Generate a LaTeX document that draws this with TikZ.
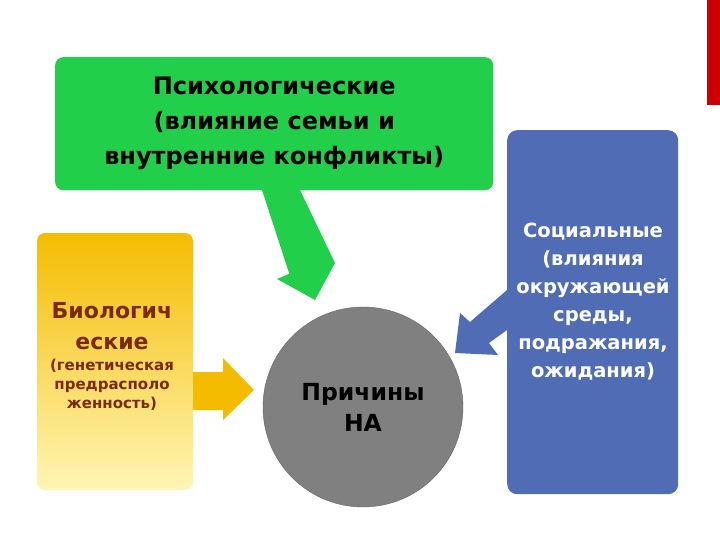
\documentclass[tikz,border=0pt]{standalone}
\usepackage{fontspec}
\setmainfont{DejaVu Sans}
\begin{document}
\begin{tikzpicture}[x=1pt,y=-1pt,
  txt/.style={font=\bfseries, align=center, inner sep=0pt}]
\definecolor{grn}{HTML}{22CF4A}
\definecolor{blu}{HTML}{4F6CB5}
\definecolor{yel}{HTML}{F4BC00}
\definecolor{yelp}{HTML}{FFF5B5}
\definecolor{gry}{HTML}{808080}
\definecolor{brn}{HTML}{7A2A05}
\useasboundingbox (0,0) rectangle (720,540);
\fill[white] (0,0) rectangle (720,540);
\fill[red!80!black] (707,0) rectangle (720,105);
% boxes
\node[fill=grn, rounded corners=8pt, minimum width=438, minimum height=133, anchor=north west] (psy) at (55,57) {};
\node[txt, font=\bfseries\fontsize{24}{35}\selectfont] at (psy.center) {Психологические\\(влияние семьи и\\внутренние конфликты)};
\shade[top color=yel, bottom color=yelp, rounded corners=8pt] (37,233) rectangle (193,490);
\node[txt, text=brn, font=\bfseries\fontsize{22}{31}\selectfont] (bt) at (112,326) {Биологич\\еские};
\node[txt, text=brn, font=\fontsize{15}{19}\selectfont\bfseries] at (112,385) {(генетическая\\предрасполо\\женность)};
\node[fill=blu, rounded corners=10pt, minimum width=171, minimum height=364, anchor=north west] (soc) at (507,130) {};
\node[txt, text=white, font=\bfseries\fontsize{19.5}{28}\selectfont] at (593,302) {Социальные\\(влияния\\окружающей\\среды,\\подражания,\\ожидания)};
\node[circle, fill=gry, draw=gry!80!black, minimum size=200, inner sep=0pt] (c) at (363,407) {};
\node[txt, font=\bfseries\fontsize{23.5}{31}\selectfont] at (c.center) {Причины\\НА};
% arrows
\fill[grn] (262,190) -- (300,190) -- (335,263) -- (315,300) -- (277,279) -- (298,270) -- cycle;
\fill[grn] (262,190) -- (300,190) -- (320,270) -- (290,276) -- cycle;
\fill[yel] (193,372) -- (223,372) -- (223,358) -- (254,390) -- (223,420) -- (223,410) -- (193,410) -- cycle;
\fill[blu] (507,290) -- (507,330) -- (489,343) -- (498,355) -- (455,353) -- (460,313) -- (470,322) -- cycle;
\end{tikzpicture}
\end{document}
